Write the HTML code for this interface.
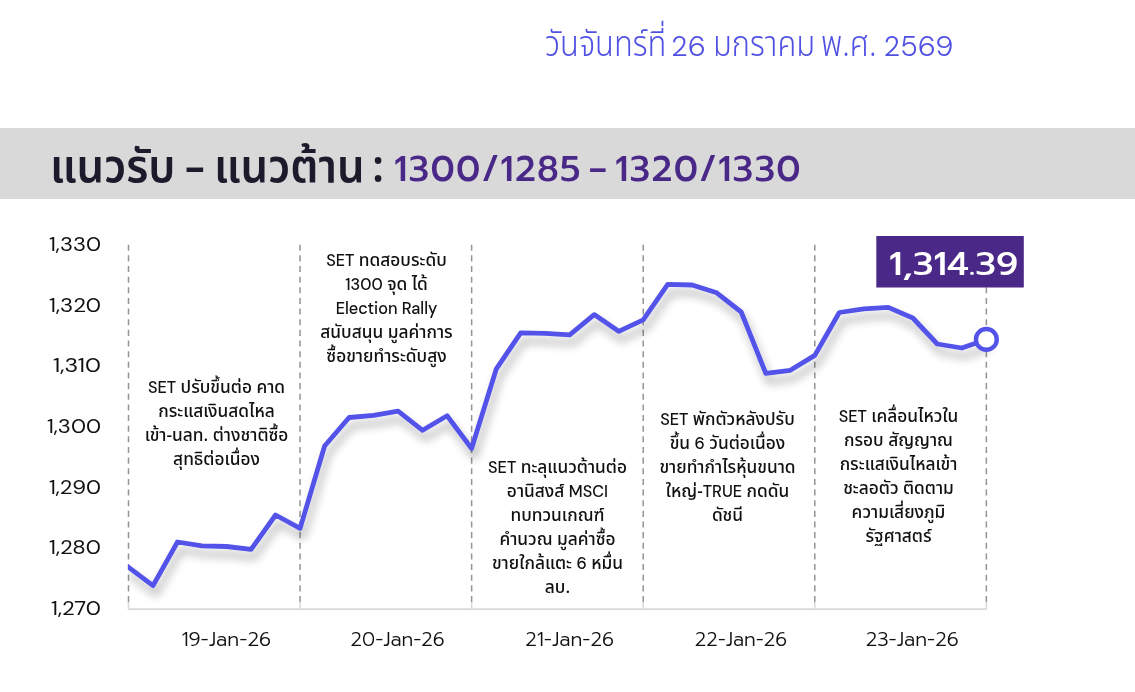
<!DOCTYPE html>
<html lang="th">
<head>
<meta charset="utf-8">
<title>SET</title>
<style>
html,body{margin:0;padding:0;background:#fff;}
body{width:1135px;height:692px;position:relative;overflow:hidden;font-family:"Prompt","Liberation Sans","Noto Sans Thai",sans-serif;}
.date{position:absolute;left:0;top:0;height:80px;width:1135px;color:#5050e4;}
.date span,.title span{position:absolute;white-space:nowrap;}
.th{font-family:"Noto Sans Thai","Liberation Sans","Noto Sans Thai UI","Sarabun","Kanit","Loma",sans-serif;}
.lt{font-family:"Prompt","Liberation Sans",sans-serif;}
.date .th{font-size:35.7px;line-height:50px;top:19.5px;font-weight:340;transform:scaleX(0.865);transform-origin:0 50%;}
.date .lt{font-family:"DM Sans","Liberation Sans",sans-serif;font-size:28.8px;line-height:40px;top:25.6px;font-weight:360;letter-spacing:0px;}
.bar{position:absolute;left:0;top:128px;width:1135px;height:71px;background:#d9d9d9;}
.title{position:absolute;left:0;top:128px;width:1135px;height:70px;color:#1e1a2b;}
.title .th{font-size:45.9px;line-height:60px;top:9.6px;font-weight:580;transform:scaleX(0.95);transform-origin:0 50%;}
.title .lt{font-size:35.6px;line-height:50px;top:15.6px;font-weight:500;color:#4a2888;letter-spacing:1.3px;}
svg{position:absolute;left:0;top:0;}
.note{position:absolute;text-align:center;font-size:17.3px;line-height:24px;color:#111;font-weight:480;font-family:"Noto Sans Thai","Liberation Sans","Noto Sans Thai UI","Sarabun","Kanit","Loma",sans-serif;white-space:nowrap;}
.note i{font-style:normal;font-family:"DM Sans","Liberation Sans",sans-serif;font-size:16.3px;font-weight:480;}
</style>
</head>
<body>
<div class="date"><span class="th" style="left:545px">วันจันทร์ที่</span><span class="lt" style="left:671px">26</span><span class="th" style="left:713px">มกราคม</span><span class="th" style="left:821px">พ.ศ.</span><span class="lt" style="left:883.5px">2569</span></div>
<div class="bar"></div>
<div class="title"><span class="th" style="left:50px">แนวรับ</span><span class="th" style="left:185px;transform:scaleX(0.86)">–</span><span class="th" style="left:214px">แนวต้าน</span><span class="th" style="left:372px">:</span><span class="lt" style="left:394px">1300/1285</span><span class="lt" style="left:589px;transform:scaleX(0.76);transform-origin:0 50%">–</span><span class="lt" style="left:615px">1320/1330</span></div>

<svg width="1135" height="692" viewBox="0 0 1135 692">
  <defs>
    <clipPath id="cp"><rect x="128" y="200" width="900" height="480"/></clipPath>
    <filter id="sh" x="-5%" y="-20%" width="110%" height="150%">
      <feGaussianBlur in="SourceAlpha" stdDeviation="4.6"/>
      <feOffset dx="3" dy="8" result="o"/>
      <feComponentTransfer><feFuncA type="linear" slope="0.32"/></feComponentTransfer>
      <feMerge><feMergeNode/><feMergeNode in="SourceGraphic"/></feMerge>
    </filter>
  </defs>
  <!-- axis -->
  <path d="M127.8,609.1H986.8 M128.5,602V609 M300.07,602V609 M471.64,602V609 M643.2,602V609 M814.8,602V609 M986.35,602V609" stroke="#dadada" stroke-width="1.6" fill="none"/>
  <g stroke="#949494" stroke-width="1.5" stroke-dasharray="6.05 4.595">
    <line x1="128.50" y1="244.7" x2="128.50" y2="602.1"/>
    <line x1="300.07" y1="244.7" x2="300.07" y2="602.1"/>
    <line x1="471.64" y1="244.7" x2="471.64" y2="602.1"/>
    <line x1="643.21" y1="244.7" x2="643.21" y2="602.1"/>
    <line x1="814.78" y1="244.7" x2="814.78" y2="602.1"/>
    <line x1="986.35" y1="244.7" x2="986.35" y2="602.1"/>
  </g>
  <g font-family="'DM Sans','Liberation Sans',sans-serif" font-size="20" font-weight="380" fill="#111">
    <text x="49" y="251" textLength="52" lengthAdjust="spacingAndGlyphs">1,330</text>
    <text x="49" y="311.6" textLength="52" lengthAdjust="spacingAndGlyphs">1,320</text>
    <text x="53" y="372.3" textLength="48" lengthAdjust="spacingAndGlyphs">1,310</text>
    <text x="47" y="432.9" textLength="54" lengthAdjust="spacingAndGlyphs">1,300</text>
    <text x="49" y="493.6" textLength="52" lengthAdjust="spacingAndGlyphs">1,290</text>
    <text x="49" y="554.2" textLength="52" lengthAdjust="spacingAndGlyphs">1,280</text>
    <text x="51" y="614.9" textLength="50" lengthAdjust="spacingAndGlyphs">1,270</text>
  </g>
  <g font-family="'Prompt','Liberation Sans',sans-serif" font-size="19.8" font-weight="300" fill="#111">
    <text x="181.5" y="646.3" textLength="89.5" lengthAdjust="spacingAndGlyphs">19-Jan-26</text>
    <text x="350.6" y="646.3" textLength="94" lengthAdjust="spacingAndGlyphs">20-Jan-26</text>
    <text x="525.2" y="646.3" textLength="88.8" lengthAdjust="spacingAndGlyphs">21-Jan-26</text>
    <text x="694.8" y="646.3" textLength="92.2" lengthAdjust="spacingAndGlyphs">22-Jan-26</text>
    <text x="865.7" y="646.3" textLength="93" lengthAdjust="spacingAndGlyphs">23-Jan-26</text>
  </g>
  <g clip-path="url(#cp)"><polyline filter="url(#sh)" fill="none" stroke="#5353ea" stroke-width="4.8" stroke-linejoin="round" stroke-linecap="butt"
    points="126.0,565.3 153.0,585.6 177.5,542 202.0,545.8 226.5,546.5 251.1,549.4 275.6,515 300.1,528.4 324.6,446 349.1,417.5 373.6,415.4 398.1,411.2 422.6,430.3 447.1,415.7 471.6,448.5 496.2,369.2 520.7,332.8 545.2,333.3 569.7,334.9 594.2,314.6 618.7,331.3 643.2,319.8 667.7,284.4 692.2,285 716.7,292.8 741.2,312 765.8,373.4 790.3,370.3 814.8,355.4 839.3,312.5 863.8,308.9 888.3,307.4 912.8,318 937.3,344 961.8,348 986.4,339.5"/></g>
  <rect x="876.3" y="236" width="147.5" height="51.5" fill="#4a2888"/>
  <text x="889" y="274.6" font-family="'Prompt','Liberation Sans',sans-serif" font-size="32" font-weight="500" fill="#fff" textLength="129" lengthAdjust="spacingAndGlyphs">1,314.39</text>
  <circle cx="986.35" cy="339.4" r="10.4" fill="#fff" stroke="#5353ea" stroke-width="4.4"/>
</svg>

<div class="note" style="left:131px;width:171px;top:376px;"><i>SET</i> ปรับขึ้นต่อ คาด<br>กระแสเงินสดไหล<br>เข้า-นลท. ต่างชาติซื้อ<br>สุทธิต่อเนื่อง</div>
<div class="note" style="left:301px;width:171px;top:249px;"><i>SET</i> ทดสอบระดับ<br><i>1300</i> จุด ได้<br><i>Election Rally</i><br>สนับสนุน มูลค่าการ<br>ซื้อขายทำระดับสูง</div>
<div class="note" style="left:472px;width:171px;top:456px;"><i>SET</i> ทะลุแนวต้านต่อ<br>อานิสงส์ <i>MSCI</i><br>ทบทวนเกณฑ์<br>คำนวณ มูลค่าซื้อ<br>ขายใกล้แตะ <i>6</i> หมื่น<br>ลบ.</div>
<div class="note" style="left:642px;width:171px;top:407.5px;"><i>SET</i> พักตัวหลังปรับ<br>ขึ้น <i>6</i> วันต่อเนื่อง<br>ขายทำกำไรหุ้นขนาด<br>ใหญ่-<i>TRUE</i> กดดัน<br>ดัชนี</div>
<div class="note" style="left:813px;width:171px;top:404.5px;"><i>SET</i> เคลื่อนไหวใน<br>กรอบ สัญญาณ<br>กระแสเงินไหลเข้า<br>ชะลอตัว ติดตาม<br>ความเสี่ยงภูมิ<br>รัฐศาสตร์</div>
</body>
</html>
